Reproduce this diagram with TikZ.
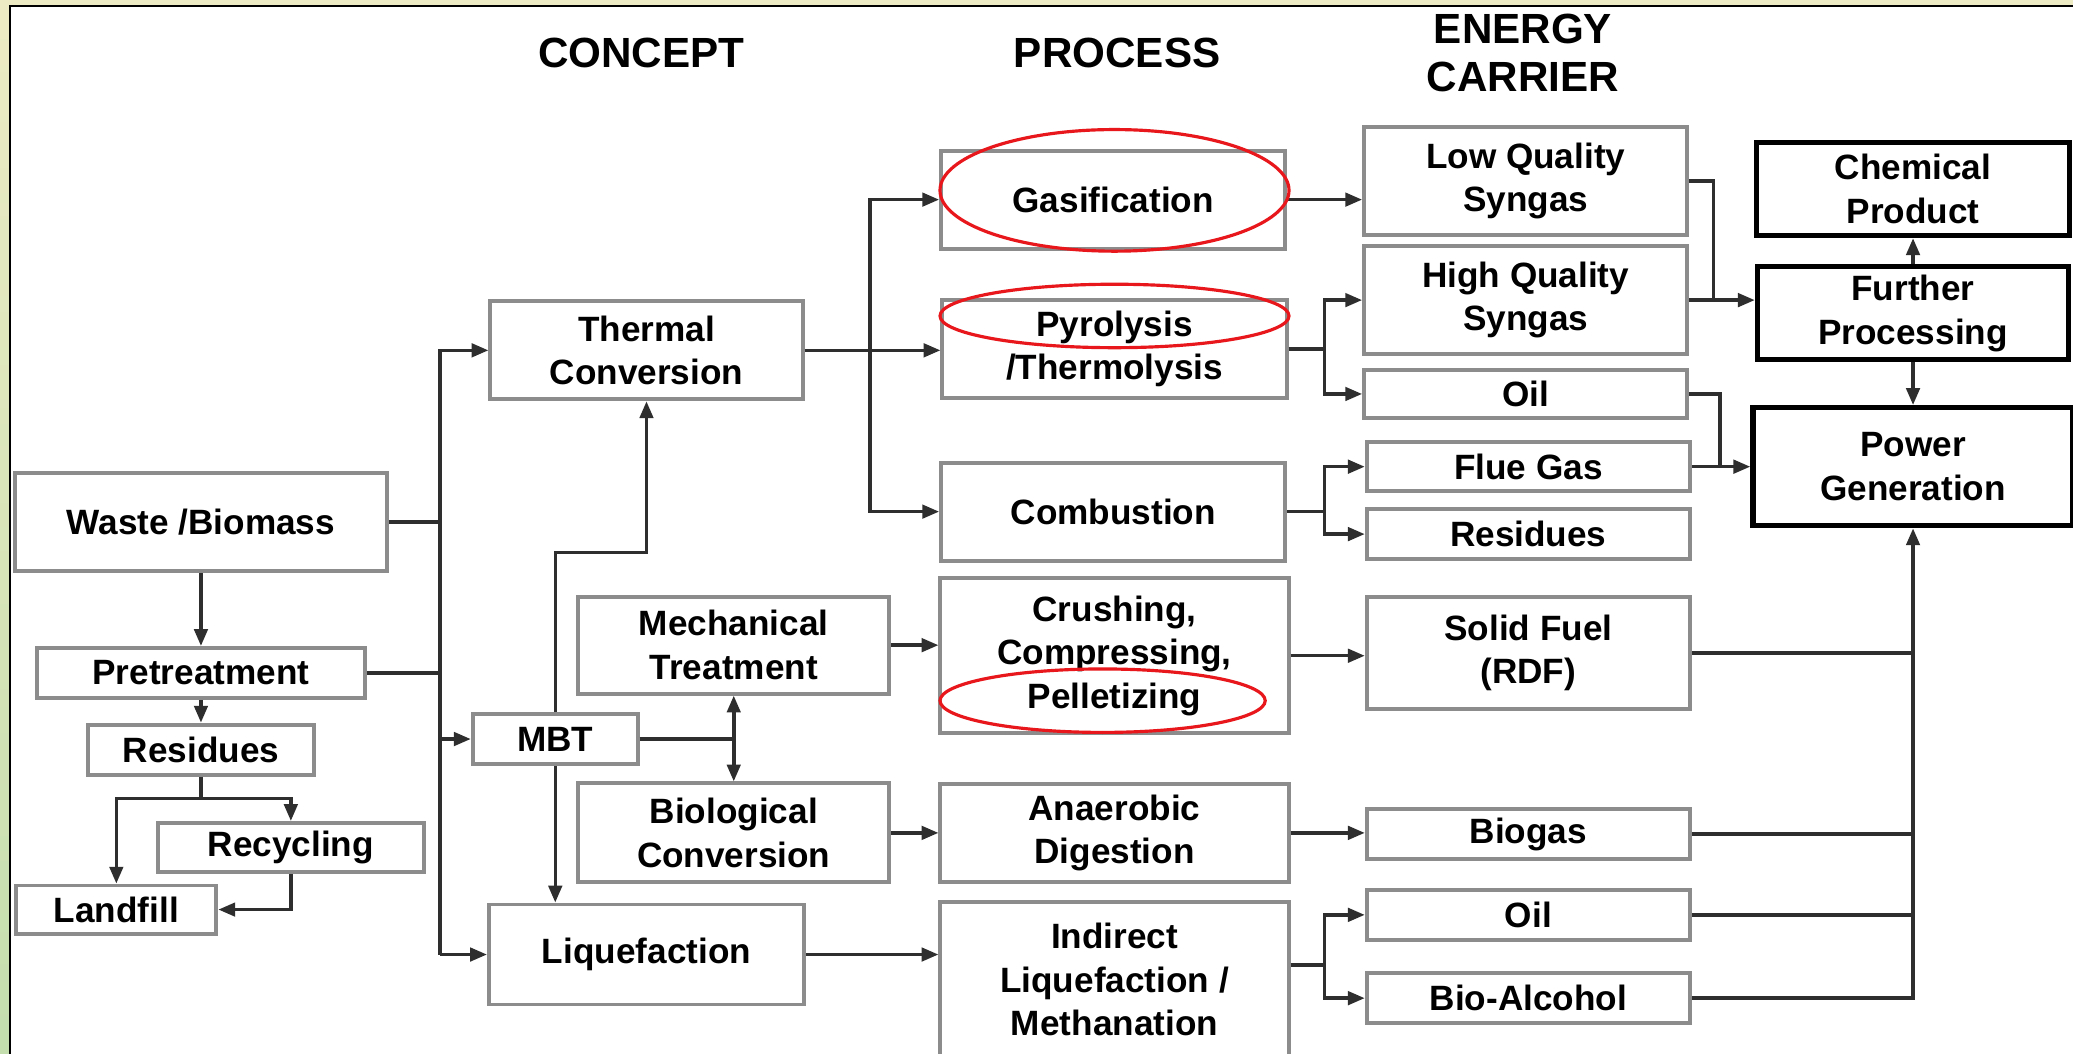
\documentclass[tikz,border=0pt]{standalone}
\usepackage{fontspec}
\setmainfont{Liberation Sans}
\usetikzlibrary{arrows.meta,positioning}
\definecolor{wbgray}{HTML}{8C8C8C}
\definecolor{wbline}{HTML}{2E2E2E}
\definecolor{wbred}{HTML}{E8171B}
\definecolor{wbyellow}{HTML}{EDEBC4}
\definecolor{wbgreen}{HTML}{C4DEAE}
\tikzset{
  procbox/.style={
    rectangle,
    draw=wbgray,
    fill=white,
    line width=1.1pt,
    align=center,
    inner sep=1pt,
    font=\fontsize{10}{12.4}\selectfont\bfseries
  },
  prockey/.style={procbox, draw=black, line width=1.5pt},
  prochead/.style={align=center, font=\fontsize{12}{13.5}\selectfont\bfseries},
  proclink/.style={draw=wbline, line width=1pt},
  procarrow/.style={proclink, -{Triangle[length=4.8pt,width=3.8pt]}},
  procboth/.style={proclink, {Triangle[length=4.8pt,width=3.8pt]}-{Triangle[length=4.8pt,width=3.8pt]}},
  procmark/.style={draw=wbred, line width=0.9pt}
}

\begin{document}
\begin{tikzpicture}[x=0.013221cm, y=-0.013221cm]
\useasboundingbox (0,0) rectangle (1568,797);
% frame
\fill[white] (0,0) rectangle (1568,797);
\fill[wbyellow] (0,0) rectangle (1568,5);
\shade[top color=wbyellow, bottom color=wbgreen] (0,0) rectangle (7.5,797);
\draw[black, line width=0.6pt] (7.8,797) |- (1568,4.8);

% column heads
\node[prochead] (hconcept) at (485,40) {CONCEPT};
\node[prochead] (hprocess) at (845,40) {PROCESS};
\node[prochead] (hcarrier) at (1152,40) {ENERGY\\CARRIER};

% feedstock
\node[procbox, minimum width=3.72cm, minimum height=0.98cm] (waste) at (152,395) {Waste /Biomass};
\node[procbox, minimum width=3.28cm, minimum height=0.50cm] (pretreat) at (152,509) {Pretreatment};
\node[procbox, minimum width=2.26cm, minimum height=0.50cm] (resleft) at (152,567) {Residues};
\node[procbox, minimum width=2.66cm, minimum height=0.49cm] (recycle) at (220,641) {Recycling};
\node[procbox, minimum width=2.00cm, minimum height=0.48cm] (landfill) at (88,688) {Landfill};

% concept
\node[procbox, minimum width=3.12cm, minimum height=0.98cm] (thermal) at (489,265) {Thermal\\Conversion};
\node[procbox, minimum width=1.65cm, minimum height=0.50cm] (mbt) at (420,559) {MBT};
\node[procbox, minimum width=3.11cm, minimum height=0.97cm] (mech) at (555,488) {Mechanical\\Treatment};
\node[procbox, minimum width=3.11cm, minimum height=0.99cm] (bio) at (555,630) {Biological\\Conversion};
\node[procbox, minimum width=3.15cm, minimum height=1.00cm] (liquef) at (489,722) {Liquefaction};

% process
\node[procbox, minimum width=3.44cm, minimum height=0.98cm] (gasif) at (842,151) {Gasification};
\node[procbox, minimum width=3.44cm, minimum height=0.98cm] (pyro) at (843,264) {Pyrolysis\\/Thermolysis};
\node[procbox, minimum width=3.44cm, minimum height=0.98cm] (comb) at (842,387) {Combustion};
\node[procbox, minimum width=3.48cm, minimum height=1.55cm] (crush) at (843,496) {Crushing,\\Compressing,\\Pelletizing};
\node[procbox, minimum width=3.48cm, minimum height=0.98cm] (anaer) at (843,630) {Anaerobic\\Digestion};
\node[procbox, minimum width=3.48cm, minimum height=1.55cm] (indirect) at (843,741) {Indirect\\Liquefaction /\\Methanation};

% energy carrier
\node[procbox, minimum width=3.23cm, minimum height=1.08cm] (lowq) at (1154,137) {Low Quality\\Syngas};
\node[procbox, minimum width=3.23cm, minimum height=1.08cm] (highq) at (1154,227) {High Quality\\Syngas};
\node[procbox, minimum width=3.23cm, minimum height=0.48cm] (oiltop) at (1154,298) {Oil};
\node[procbox, minimum width=3.23cm, minimum height=0.49cm] (flue) at (1156,353) {Flue Gas};
\node[procbox, minimum width=3.23cm, minimum height=0.50cm] (resright) at (1156,404) {Residues};
\node[procbox, minimum width=3.23cm, minimum height=1.12cm] (solid) at (1156,494) {Solid Fuel\\(RDF)};
\node[procbox, minimum width=3.23cm, minimum height=0.50cm] (biogas) at (1156,631) {Biogas};
\node[procbox, minimum width=3.23cm, minimum height=0.50cm] (oilbot) at (1156,692) {Oil};
\node[procbox, minimum width=3.23cm, minimum height=0.50cm] (alcohol) at (1156,755) {Bio-Alcohol};

% use
\node[prockey, minimum width=3.13cm, minimum height=0.93cm] (chem) at (1447,143) {Chemical\\Product};
\node[prockey, minimum width=3.11cm, minimum height=0.93cm] (further) at (1447,237) {Further\\Processing};
\node[prockey, minimum width=3.20cm, minimum height=1.18cm] (power) at (1447,353) {Power\\Generation};

% branch points
\coordinate (ressplit) at (152,604);
\coordinate (trunk) at (333,0);
\coordinate (mbtbend) at (489,418);
\coordinate (mbtsplit) at (555,559);
\coordinate (thermsplit) at (658,265);
\coordinate (pyrosplit) at (1002,264);
\coordinate (combsplit) at (1002,387);
\coordinate (indsplit) at (1002,730);
\coordinate (synjoin) at (1296,227);
\coordinate (oiljoin) at (1301,353);

% feedstock links
\draw[procarrow] (waste) -- (pretreat);
\draw[procarrow] (pretreat) -- (resleft);
\draw[proclink] (resleft) -- (ressplit);
\draw[procarrow] (ressplit) -| (landfill.north);
\draw[procarrow] (ressplit) -| (recycle.north);
\draw[procarrow] (recycle.south) |- (landfill.east);
\draw[proclink] (waste.east) -- (waste.east -| trunk);
\draw[proclink] (pretreat.east) -- (pretreat.east -| trunk);
\draw[procarrow] (trunk |- liquef.west) |- (thermal.west);
\draw[procarrow] (trunk |- mbt.west) -- (mbt.west);
\draw[procarrow] (trunk |- liquef.west) -- (liquef.west);

% MBT links
\draw[procarrow] (mbt.north) |- (mbtbend) -- (thermal.south);
\draw[procarrow] (mbt.south) -- (mbt.south |- liquef.north);
\draw[proclink] (mbt.east) -- (mbtsplit);
\draw[procboth] (mech.south) -- (bio.north);

% concept to process
\draw[procarrow] (thermal.east) -- (thermal.east -| pyro.west);
\draw[procarrow] (thermsplit) |- (gasif.west);
\draw[procarrow] (thermsplit) |- (comb.west);
\draw[procarrow] (mech.east) -- (mech.east -| crush.west);
\draw[procarrow] (bio.east) -- (anaer.west);
\draw[procarrow] (liquef.east) -- (liquef.east -| indirect.west);

% process to carrier
\draw[procarrow] (gasif.east) -- (gasif.east -| lowq.west);
\draw[proclink] (pyro.east) -- (pyrosplit);
\draw[procarrow] (pyrosplit) |- (highq.west);
\draw[procarrow] (pyrosplit) |- (oiltop.west);
\draw[proclink] (comb.east) -- (combsplit);
\draw[procarrow] (combsplit) |- (flue.west);
\draw[procarrow] (combsplit) |- (resright.west);
\draw[procarrow] (crush.east) -- (crush.east -| solid.west);
\draw[procarrow] (anaer.east) -- (anaer.east -| biogas.west);
\draw[proclink] (indirect.east |- indsplit) -- (indsplit);
\draw[procarrow] (indsplit) |- (oilbot.west);
\draw[procarrow] (indsplit) |- (alcohol.west);

% carrier to use
\draw[proclink] (lowq.east) -| (synjoin);
\draw[procarrow] (highq.east) -- (highq.east -| further.west);
\draw[proclink] (oiltop.east) -| (oiljoin);
\draw[procarrow] (flue.east) -- (flue.east -| power.west);
\draw[procarrow] (further.north) -- (chem.south);
\draw[procarrow] (further.south) -- (power.north);
\draw[procarrow] (alcohol.east) -| (power.south);
\draw[proclink] (solid.east) -- (solid.east -| power.south);
\draw[proclink] (biogas.east) -- (biogas.east -| power.south);
\draw[proclink] (oilbot.east) -- (oilbot.east -| power.south);

% red marks
\draw[procmark] (843,144) ellipse [x radius=132, y radius=46];
\draw[procmark] (843,239) ellipse [x radius=132, y radius=24];
\draw[procmark] (834,530) ellipse [x radius=123, y radius=24];
\end{tikzpicture}
\end{document}
